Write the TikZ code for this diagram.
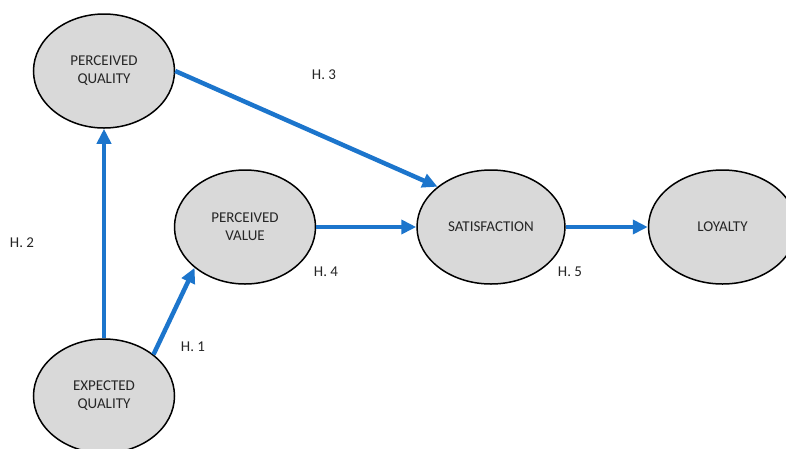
\documentclass[tikz,border=0pt]{standalone}
\usepackage{fontspec}
\setmainfont{Carlito}
\usetikzlibrary{shapes, arrows.meta, positioning}
\definecolor{hblue}{RGB}{28,117,204}
\definecolor{cgrey}{RGB}{217,217,217}

\begin{document}
\begin{tikzpicture}[x=1pt, y=-1pt, >={Triangle[length=15pt, width=14pt]}, node distance=100pt]
	\tikzstyle{construct} = [draw=black, line width=1.5pt, ellipse, fill=cgrey, minimum width=141pt, minimum height=114pt, inner sep=0pt, align=center, text=black!85, font=\fontsize{15}{18}\selectfont]
	\tikzstyle{hyp} = [text=black!85, font=\fontsize{15}{18}\selectfont]
	\tikzstyle{link} = [hblue, line width=4.5pt]

	\useasboundingbox (0,0) rectangle (786,448);

	\path[->]
		node[construct] (pq) at (104,71) {PERCEIVED\\QUALITY}
		node[construct] (eq) at (104,396) {EXPECTED\\QUALITY}
		node[construct] (pv) at (245,227) {PERCEIVED\\VALUE}
		node[construct, minimum width=148pt, right=of pv] (sat) {SATISFACTION}
		node[construct, minimum width=148pt, right=82pt of sat] (loy) {LOYALTY}

		(eq.40) edge[link] (pv.219)
		(eq) edge[link] (pq)
		(pq.east) edge[link] (sat.143)
		(pv) edge[link] (sat)
		(sat) edge[link] (loy)
	;

	% hypothesis labels
	\node[hyp] (h1) at (193,347) {H. 1};
	\node[hyp] (h2) at (22,243) {H. 2};
	\node[hyp] (h3) at (324,75) {H. 3};
	\node[hyp] (h4) at (326,272) {H. 4};
	\node[hyp] (h5) at (570,272) {H. 5};
\end{tikzpicture}
\end{document}
